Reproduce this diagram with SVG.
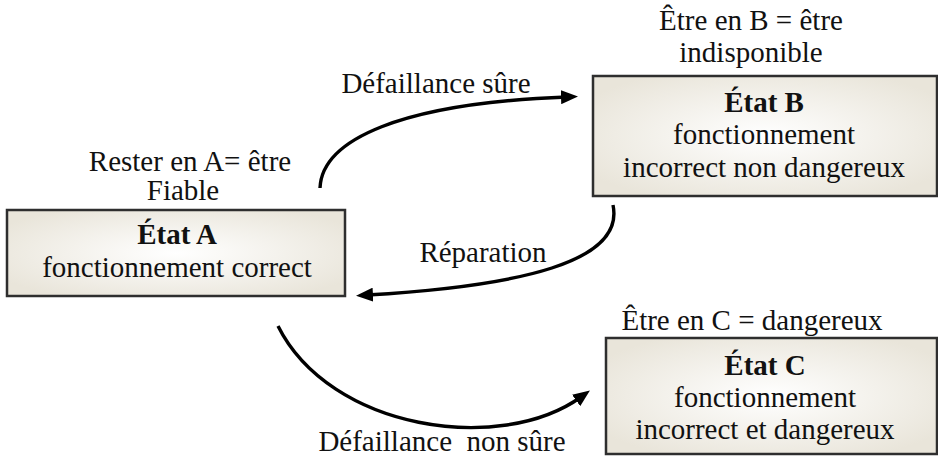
<svg xmlns="http://www.w3.org/2000/svg" width="938" height="457" viewBox="0 0 938 457">
  <style>
    text { font-family: "Liberation Serif", "Times New Roman", serif; font-size: 29px; fill: #111; text-anchor: middle; }
    .title { font-weight: bold; }
    .box { fill: url(#boxFill); stroke: #2e2e2e; stroke-width: 2.5; }
    .arc { fill: none; stroke: #000; stroke-width: 3.4; marker-end: url(#head); }
  </style>
  <defs>
    <radialGradient id="boxFill" cx="50%" cy="50%" r="60%">
      <stop offset="0" stop-color="#ffffff"/>
      <stop offset="1" stop-color="#e9e5da"/>
    </radialGradient>
    <marker id="head" markerUnits="userSpaceOnUse" markerWidth="18" markerHeight="14" refX="6" refY="7" orient="auto">
      <path d="M0,0 L17,7 L0,14 z" fill="#000"/>
    </marker>
  </defs>

  <!-- state A -->
  <g id="etat-a">
    <text x="190" y="171">Rester en A= être</text>
    <text x="183" y="200">Fiable</text>
    <rect class="box" x="7" y="210" width="338" height="86"/>
    <text class="title" x="177" y="244">État A</text>
    <text x="177" y="277">fonctionnement correct</text>
  </g>

  <!-- state B -->
  <g id="etat-b">
    <text x="751" y="30">Être en B = être</text>
    <text x="751" y="62">indisponible</text>
    <rect class="box" x="593" y="76" width="344" height="120"/>
    <text class="title" x="764" y="112">État B</text>
    <text x="764" y="144">fonctionnement</text>
    <text x="764" y="177">incorrect non dangereux</text>
  </g>

  <!-- state C -->
  <g id="etat-c">
    <text x="752" y="330">Être en C = dangereux</text>
    <rect class="box" x="606" y="338" width="331" height="116"/>
    <text class="title" x="765" y="375">État C</text>
    <text x="765" y="407">fonctionnement</text>
    <text x="765" y="439">incorrect et dangereux</text>
  </g>

  <!-- transitions -->
  <g id="connectors">
    <path class="arc" d="M320,188 C322,140 400,103 567,97"/>
    <text x="436" y="93">Défaillance sûre</text>
    <path class="arc" d="M613,205 C625,262 520,286 367,295"/>
    <text x="483" y="262">Réparation</text>
    <path class="arc" d="M278,326 C330,430 500,455 581,397"/>
    <text x="442" y="451" style="white-space:pre">Défaillance  non sûre</text>
  </g>
</svg>
